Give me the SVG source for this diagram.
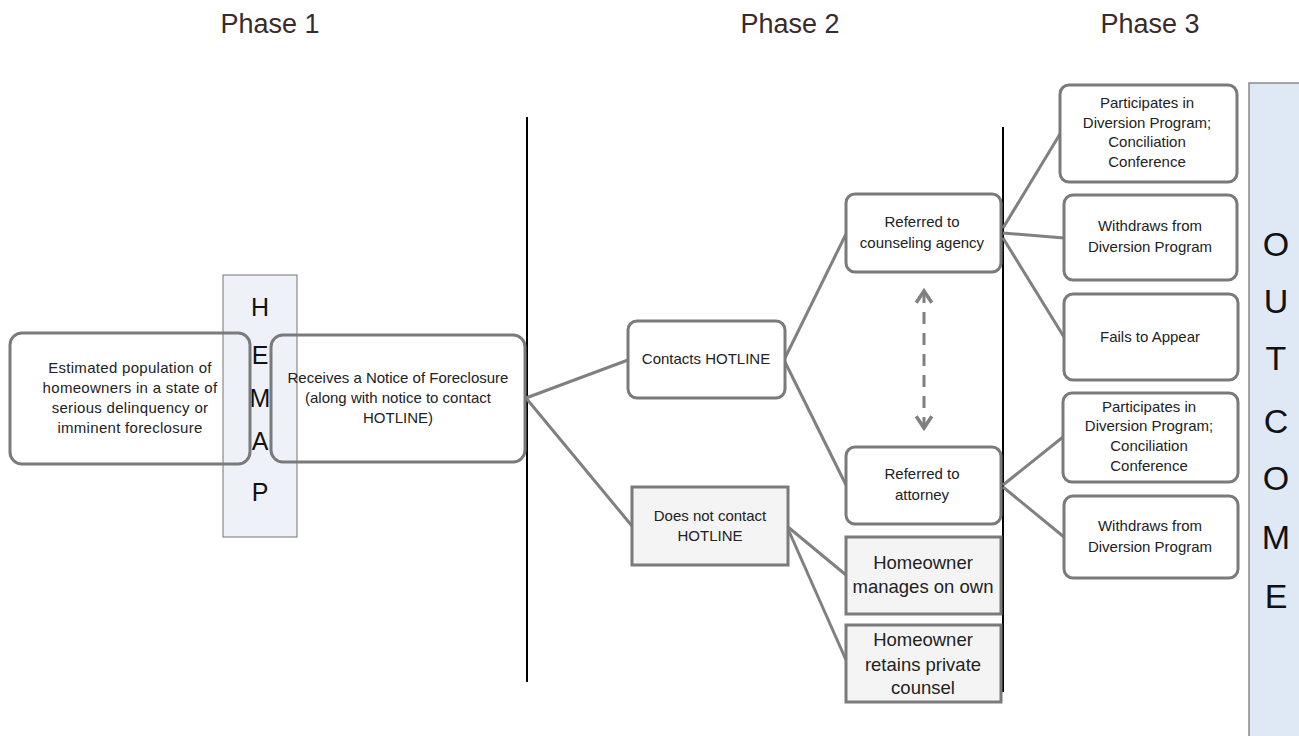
<svg xmlns="http://www.w3.org/2000/svg" width="1299" height="736" viewBox="0 0 1299 736">
<style>
.t{font-family:"Liberation Sans",Arial,sans-serif;font-size:15px;fill:#222;text-anchor:middle}
.w{letter-spacing:0.3px}
.b{font-size:18.5px}
.h{font-family:"Liberation Sans",Arial,sans-serif;font-size:27px;fill:#3a2a2a;text-anchor:middle}
.v{font-family:"Liberation Sans",Arial,sans-serif;font-size:25px;fill:#111;text-anchor:middle}
.o{font-family:"Liberation Sans",Arial,sans-serif;font-size:34px;fill:#111;text-anchor:middle}
.n{fill:#fff;stroke:#7a7a7a;stroke-width:3}
.s{fill:#f4f4f4;stroke:#7a7a7a;stroke-width:3}
.c{stroke:#808080;stroke-width:3;fill:none}
.d{stroke:#000;stroke-width:2}
</style>
<defs>
<marker id="ah" viewBox="0 0 10 10" refX="7" refY="5" markerWidth="6.5" markerHeight="6.5" orient="auto-start-reverse">
<path d="M1,1 L7,5 L1,9" fill="none" stroke="#808080" stroke-width="1.8"/>
</marker>
</defs>
<rect width="1299" height="736" fill="#fff"/>
<g id="titles">
<text class="h" x="270" y="33">Phase 1</text>
<text class="h" x="790" y="33">Phase 2</text>
<text class="h" x="1150" y="33">Phase 3</text>
</g>
<g id="dividers">
<line class="d" x1="527" y1="117" x2="527" y2="682"/>
<line class="d" x1="1003" y1="127" x2="1003" y2="692"/>
</g>
<g id="connectors">
<line class="c" x1="526" y1="398" x2="628" y2="360"/>
<line class="c" x1="526" y1="398" x2="632" y2="526"/>
<line class="c" x1="785" y1="358" x2="846" y2="234"/>
<line class="c" x1="785" y1="362" x2="846" y2="485"/>
<line class="c" x1="788" y1="527" x2="846" y2="575"/>
<line class="c" x1="788" y1="529" x2="846" y2="660"/>
<line class="c" x1="1003" y1="228" x2="1060" y2="134"/>
<line class="c" x1="1003" y1="233" x2="1064" y2="238"/>
<line class="c" x1="1003" y1="238" x2="1064" y2="337"/>
<line class="c" x1="1003" y1="485" x2="1063" y2="437"/>
<line class="c" x1="1003" y1="487" x2="1064" y2="537"/>
<line class="c" x1="924" y1="291" x2="924" y2="428" stroke-dasharray="12,9" marker-start="url(#ah)" marker-end="url(#ah)"/>
</g>
<g id="hemap">
<rect x="223" y="275" width="74" height="262" fill="#eef1f7" stroke="#8a8a8a" stroke-width="1.2"/>
<text class="v" x="260" y="316">H</text>
<text class="v" x="260" y="364">E</text>
<text class="v" x="260" y="407">M</text>
<text class="v" x="260" y="450">A</text>
<text class="v" x="260" y="501">P</text>
</g>
<g id="population">
<rect class="n" x="10" y="333" width="240" height="131" rx="12" style="fill:none"/>
<text class="t w" x="130" y="373">Estimated population of</text>
<text class="t w" x="130" y="393">homeowners in a state of</text>
<text class="t w" x="130" y="413">serious delinquency or</text>
<text class="t w" x="130" y="433">imminent foreclosure</text>
</g>
<g id="notice">
<rect class="n" x="271" y="335" width="254" height="127" rx="12" style="fill:none"/>
<text class="t" x="398" y="383">Receives a Notice of Foreclosure</text>
<text class="t" x="398" y="403">(along with notice to contact</text>
<text class="t" x="398" y="423">HOTLINE)</text>
</g>
<g id="contacts">
<rect class="n" x="628" y="321" width="157" height="77" rx="9"/>
<text class="t" x="706" y="364">Contacts HOTLINE</text>
</g>
<g id="notcontact">
<rect class="s" x="632" y="487" width="156" height="78"/>
<text class="t" x="710" y="521">Does not contact</text>
<text class="t" x="710" y="541">HOTLINE</text>
</g>
<g id="counseling">
<rect class="n" x="846" y="194" width="155" height="78" rx="9"/>
<text class="t" x="922" y="227">Referred to</text>
<text class="t" x="922" y="248">counseling agency</text>
</g>
<g id="attorney">
<rect class="n" x="846" y="447" width="155" height="77" rx="9"/>
<text class="t" x="922" y="479">Referred to</text>
<text class="t" x="922" y="500">attorney</text>
</g>
<g id="manages">
<rect class="s" x="846" y="537" width="155" height="77"/>
<text class="t b" x="923" y="569">Homeowner</text>
<text class="t b" x="923" y="593">manages on own</text>
</g>
<g id="retains">
<rect class="s" x="846" y="625" width="155" height="77"/>
<text class="t b" x="923" y="646">Homeowner</text>
<text class="t b" x="923" y="671">retains private</text>
<text class="t b" x="923" y="694">counsel</text>
</g>
<g id="participates1">
<rect class="n" x="1060" y="85" width="177" height="97" rx="9"/>
<text class="t" x="1147" y="108">Participates in</text>
<text class="t" x="1147" y="128">Diversion Program;</text>
<text class="t" x="1147" y="147">Conciliation</text>
<text class="t" x="1147" y="167">Conference</text>
</g>
<g id="withdraws1">
<rect class="n" x="1064" y="195" width="173" height="85" rx="9"/>
<text class="t" x="1150" y="231">Withdraws from</text>
<text class="t" x="1150" y="252">Diversion Program</text>
</g>
<g id="fails">
<rect class="n" x="1064" y="294" width="174" height="86" rx="9"/>
<text class="t" x="1150" y="342">Fails to Appear</text>
</g>
<g id="participates2">
<rect class="n" x="1063" y="393" width="175" height="89" rx="9"/>
<text class="t" x="1149" y="412">Participates in</text>
<text class="t" x="1149" y="431">Diversion Program;</text>
<text class="t" x="1149" y="451">Conciliation</text>
<text class="t" x="1149" y="471">Conference</text>
</g>
<g id="withdraws2">
<rect class="n" x="1064" y="496" width="174" height="82" rx="9"/>
<text class="t" x="1150" y="531">Withdraws from</text>
<text class="t" x="1150" y="552">Diversion Program</text>
</g>
<g id="outcome">
<rect x="1249" y="83" width="56" height="660" fill="#dfe8f5" stroke="#8a8a8a" stroke-width="1.5"/>
<text class="o" x="1276" y="256">O</text>
<text class="o" x="1276" y="313">U</text>
<text class="o" x="1276" y="370">T</text>
<text class="o" x="1276" y="433">C</text>
<text class="o" x="1276" y="490">O</text>
<text class="o" x="1276" y="549">M</text>
<text class="o" x="1276" y="608">E</text>
</g>
</svg>
